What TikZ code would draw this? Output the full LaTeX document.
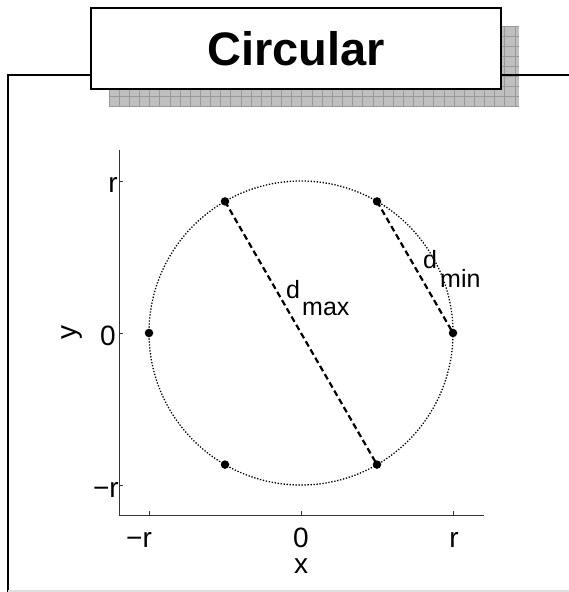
\documentclass[tikz,border=0pt]{standalone}
\usepackage{fontspec}
\setmainfont{Liberation Sans}
\begin{document}
\begin{tikzpicture}[x=1pt,y=-1pt,
  ticklab/.style={font=\fontsize{28}{28}\selectfont, inner sep=0pt},
  sublab/.style={font=\fontsize{25}{25}\selectfont, inner sep=0pt},
  axisline/.style={draw=black!80, line width=1pt},
  dotpt/.style={circle, fill=black, inner sep=0pt, minimum size=8.5pt},
  chord/.style={line width=2.2pt, dash pattern=on 6pt off 3.5pt},
  framel/.style={line width=2.6pt, black},
  ]
\useasboundingbox (0,0) rectangle (569,592);
% shadow of title box
\fill[gray!50] (109,26) rectangle (519,107);
\foreach \i in {0,...,40} {\draw[gray!80, line width=0.8pt] ({109+\i*10.15},26) -- ({109+\i*10.15},107);}
\foreach \j in {0,...,8} {\draw[gray!80, line width=0.8pt] (109,{26+\j*10.1}) -- (519,{26+\j*10.1});}
% frame
\draw[framel] (8,592) -- (8,75) -- (91,75);
\draw[framel] (501,75) -- (569,75);
\draw[gray!25, line width=2pt] (8,591) -- (569,591);
% title box
\node[draw, line width=2.8pt, fill=white, minimum width=410pt, minimum height=81pt, inner sep=0pt] (title) at (296,48.5) {};
\node[font=\fontsize{47}{47}\selectfont\bfseries, anchor=base, inner sep=0pt] (titletext) at (296,65) {Circular};
% axes
\coordinate (o) at (119,515);
\coordinate (ytop) at (119,150);
\coordinate (xend) at (484,515);
\draw[axisline] (ytop) -- (o) -- (xend);
\foreach \yy in {181,333,485} {\draw[axisline] (119,\yy) -- (123,\yy);}
\foreach \xx in {149,301,453} {\draw[axisline] (\xx,515) -- (\xx,511);}
% tick labels
\node[ticklab, anchor=base] (xm) at (139,547) {−r};
\node[ticklab, anchor=base] (x0) at (301,547) {0};
\node[ticklab, anchor=base] (xp) at (454,547) {r};
\node[ticklab, anchor=base] (xlab) at (301,573) {x};
\node[ticklab, anchor=base east] (yp) at (118,192) {r};
\node[ticklab, anchor=base east] (y0) at (116,345) {0};
\node[ticklab, anchor=base east] (ym) at (119,497) {−r};
\node[ticklab, rotate=90] (ylab) at (72,332) {y};
% circle
\coordinate (c) at (301,333);
\draw[line width=1.3pt, dash pattern=on 1.3pt off 1.7pt] (c) circle[radius=152];
% points
\node[dotpt] (p60) at (377,201.4) {};
\node[dotpt] (p120) at (225,201.4) {};
\node[dotpt] (p0) at (453,333) {};
\node[dotpt] (p180) at (149,333) {};
\node[dotpt] (p240) at (225,464.6) {};
\node[dotpt] (p300) at (377,464.6) {};
% chords
\draw[chord] (p120.center) -- (p300.center);
\draw[chord] (p60.center) -- (p0.center);
% labels
\node[sublab, anchor=base west] (dmax) at (286,298) {d};
\node[sublab, anchor=base west] (dmaxs) at (302,315) {max};
\node[sublab, anchor=base west] (dmin) at (423,268) {d};
\node[sublab, anchor=base west] (dmins) at (440,287) {min};
\end{tikzpicture}
\end{document}
